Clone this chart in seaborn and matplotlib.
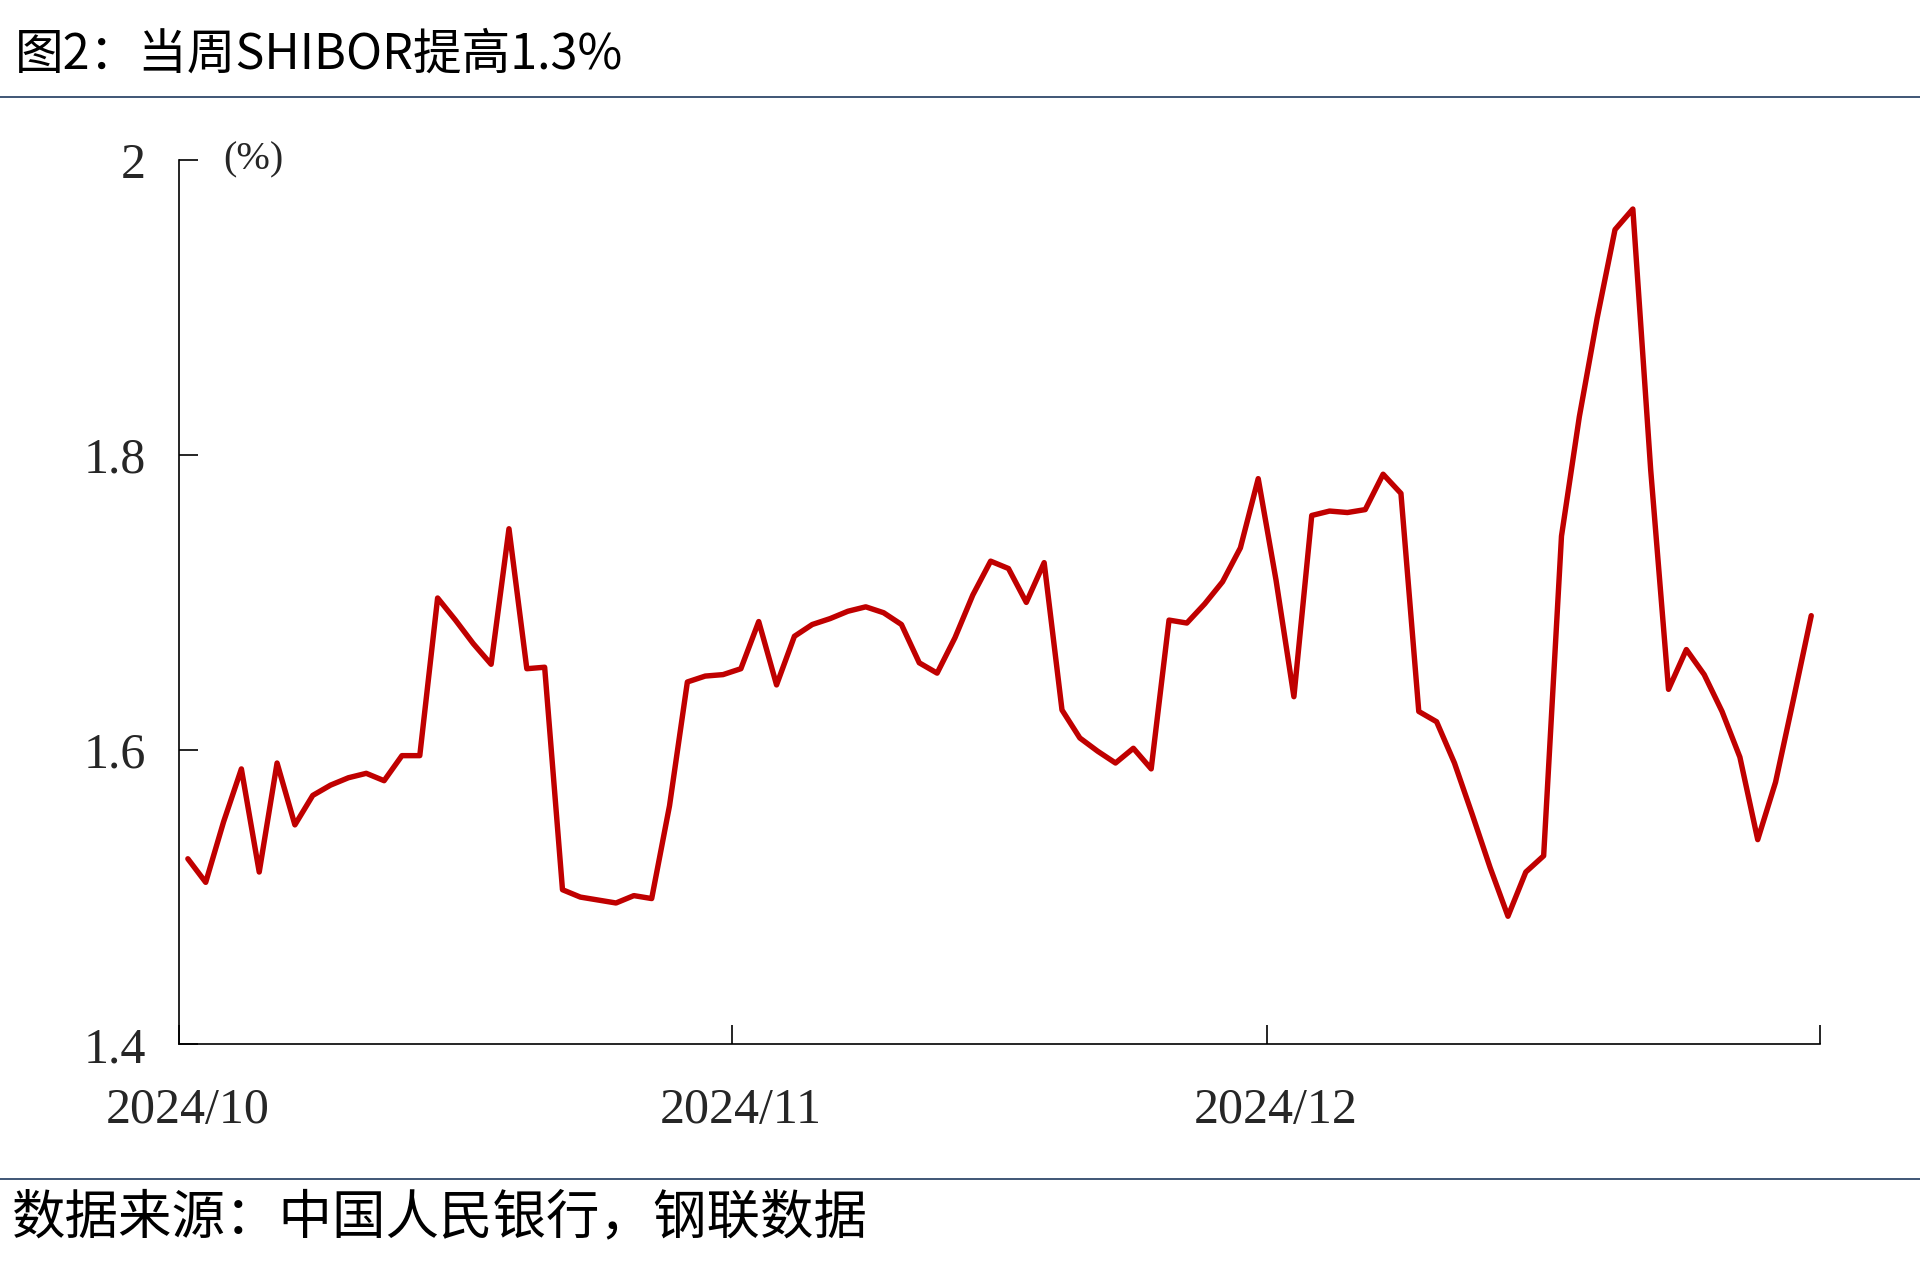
import pandas as pd
import numpy as np
import seaborn as sns
import matplotlib.pyplot as plt
import matplotlib.dates as mdates
from matplotlib.lines import Line2D

# daily SHIBOR readings, 2024-10-01 .. 2024-12-31
start = '2024-10-01'
shibor = [
    1.526, 1.510, 1.551, 1.587, 1.517, 1.591, 1.549, 1.569, 1.576, 1.581,
    1.584, 1.579, 1.596, 1.596, 1.703, 1.688, 1.672, 1.658, 1.750, 1.655,
    1.656, 1.505, 1.500, 1.498, 1.496, 1.501, 1.499, 1.562, 1.646, 1.650,
    1.651, 1.655, 1.687, 1.644, 1.677, 1.685, 1.689, 1.694, 1.697, 1.693,
    1.685, 1.659, 1.652, 1.676, 1.705, 1.728, 1.723, 1.700, 1.727, 1.627,
    1.608, 1.599, 1.591, 1.601, 1.587, 1.688, 1.686, 1.699, 1.714, 1.737,
    1.784, 1.715, 1.636, 1.759, 1.762, 1.761, 1.763, 1.787, 1.774, 1.626,
    1.619, 1.591, 1.556, 1.520, 1.487, 1.517, 1.528, 1.745, 1.826, 1.893,
    1.953, 1.967, 1.790, 1.641, 1.668, 1.651, 1.626, 1.595, 1.539, 1.578,
    1.634, 1.691,
]
month_starts = ['2024-10-01', '2024-11-01', '2024-12-01', '2025-01-01']
month_labels = ['2024/10', '2024/11', '2024/12']
y_ticks = [1.4, 1.6, 1.8, 2.0]
y_labels = ['1.4', '1.6', '1.8', '2']

title = '图2：当周SHIBOR提高1.3%'
source = '数据来源：中国人民银行，钢联数据'
unit = '(%)'

# points sit in the middle of each day slot (excel "between tick marks")
dates = pd.date_range(start, periods=len(shibor), freq='D') + pd.Timedelta(hours=12)
df = pd.DataFrame({'date': dates, 'value': shibor})

sns.set_style('white')
plt.rcParams['font.family'] = ['Noto Sans CJK SC', 'DejaVu Sans']

fig = plt.figure(figsize=(19.2, 12.79), dpi=100)
ax = fig.add_axes([0.0932, 0.1834, 0.948 - 0.0932, 0.8746 - 0.1834])

sns.lineplot(data=df, x='date', y='value', ax=ax, color='#C00000',
             linewidth=3.9, solid_joinstyle='round', solid_capstyle='round')

serif = 'Liberation Serif'
ax.set_ylim(1.4, 2.0)
ax.set_xlim(pd.Timestamp(month_starts[0]), pd.Timestamp(month_starts[-1]))
ax.set_yticks(y_ticks, labels=y_labels)
ax.set_xticks(pd.to_datetime(month_starts), labels=[''] * len(month_starts))
ax.set_xticks(pd.to_datetime(month_starts[:-1]) + pd.Timedelta(hours=12),
              labels=month_labels, minor=True)
ax.set_xlabel('')
ax.set_ylabel('')

for sp in ['top', 'right']:
    ax.spines[sp].set_visible(False)
for sp in ['left', 'bottom']:
    ax.spines[sp].set_color('black')
    ax.spines[sp].set_linewidth(1.2)

ax.tick_params(axis='x', which='both', bottom=True)
ax.tick_params(axis='y', which='both', left=True)
ax.tick_params(axis='both', which='major', direction='in', length=14, width=1.2,
               color='black')
ax.tick_params(axis='x', which='minor', length=0, pad=31)
ax.tick_params(axis='y', which='major', pad=24)
for lab in ax.get_yticklabels() + ax.get_xticklabels(minor=True):
    lab.set_fontfamily(serif)
    lab.set_fontsize(36)
    lab.set_color('#262626')

ax.text(0.027, 1.0, unit, transform=ax.transAxes, ha='left', va='center',
        fontsize=29, family=serif, color='#262626')

fig.text(0.008, 0.957, title, ha='left', va='center', fontsize=35, color='black')
fig.text(0.006, 0.0477, source, ha='left', va='center', fontsize=38.5, color='black')

navy = '#1F3A5F'
fig.add_artist(Line2D([0, 1], [0.9242, 0.9242], transform=fig.transFigure,
                      color=navy, linewidth=1.2))
fig.add_artist(Line2D([0, 1], [0.0782, 0.0782], transform=fig.transFigure,
                      color=navy, linewidth=1.2))

fig.savefig('out.png', dpi=100, facecolor='white')
